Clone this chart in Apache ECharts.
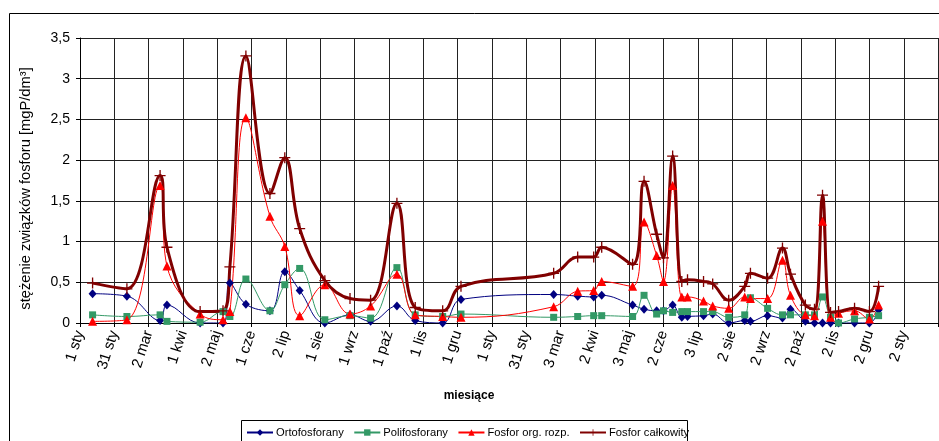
<!DOCTYPE html>
<html>
<head>
<meta charset="utf-8">
<script src="https://cdn.jsdelivr.net/npm/echarts@6/dist/echarts.min.js"></script>
<style>
html,body{margin:0;padding:0;background:#fff;}
#chart{width:939px;height:441px;}
</style>
</head>
<body>
<div id="chart"></div>
<script>
// Day offsets of the samples (days from "1 sty" of the first year)
const days = [11, 41, 70, 76, 105, 125, 131, 145, 166, 179, 192, 214, 236, 254, 277, 293, 317, 333,
  414, 435, 449, 456, 483, 493, 504, 510, 518, 526, 531, 545, 553, 567,
  581, 586, 601, 614, 621, 634, 642, 649, 656, 663, 677, 690, 698];

const ortofosforany = [0.36, 0.33, 0.03, 0.22, 0.00, 0.00, 0.49, 0.23, 0.15, 0.63, 0.40, 0.00, 0.10, 0.02, 0.21, 0.03, 0.00, 0.29,
  0.35, 0.33, 0.32, 0.34, 0.22, 0.17, 0.15, 0.15, 0.22, 0.07, 0.08, 0.09, 0.11, 0.00,
  0.03, 0.02, 0.09, 0.06, 0.17, 0.02, 0.00, 0.00, 0.00, 0.00, 0.00, 0.00, 0.16];

const polifosforany = [0.10, 0.08, 0.10, 0.02, 0.01, 0.14, 0.08, 0.54, 0.15, 0.47, 0.67, 0.04, 0.09, 0.06, 0.68, 0.10, 0.08, 0.11,
  0.07, 0.08, 0.09, 0.09, 0.08, 0.34, 0.11, 0.15, 0.13, 0.14, 0.14, 0.14, 0.14, 0.07,
  0.10, 0.31, 0.18, 0.10, 0.10, 0.10, 0.10, 0.32, 0.07, 0.00, 0.05, 0.07, 0.09];

const fosforOrg = [0.02, 0.04, 1.69, 0.70, 0.11, 0.04, 0.14, 2.52, 1.31, 0.94, 0.09, 0.47, 0.11, 0.21, 0.60, 0.10, 0.08, 0.07,
  0.20, 0.39, 0.40, 0.51, 0.45, 1.24, 0.83, 0.51, 1.69, 0.32, 0.32, 0.27, 0.21, 0.18,
  0.32, 0.30, 0.30, 0.77, 0.34, 0.10, 0.09, 1.25, 0.07, 0.12, 0.15, 0.05, 0.22];

const fosforCalk = [0.49, 0.42, 1.81, 0.93, 0.14, 0.15, 0.69, 3.28, 1.59, 2.03, 1.16, 0.52, 0.30, 0.28, 1.47, 0.19, 0.15, 0.45,
  0.61, 0.81, 0.81, 0.93, 0.72, 1.74, 1.09, 0.80, 2.05, 0.51, 0.53, 0.51, 0.48, 0.28,
  0.45, 0.61, 0.55, 0.92, 0.60, 0.22, 0.17, 1.57, 0.13, 0.14, 0.18, 0.14, 0.45];

const xTickLabels = ["1 sty", "31 sty", "2 mar", "1 kwi", "2 maj", "1 cze", "2 lip", "1 sie", "1 wrz", "1 paź", "1 lis", "1 gru",
  "1 sty", "31 sty", "3 mar", "2 kwi", "3 maj", "2 cze", "3 lip", "2 sie", "2 wrz", "2 paź", "2 lis", "2 gru", "2 sty"];

const seriesNames = ["Ortofosforany", "Polifosforany", "Fosfor org. rozp.", "Fosfor całkowity"];

const pair = arr => days.map((d, i) => [d, arr[i]]);
const FONT = "'Liberation Sans', Arial, sans-serif";
const plusSymbol = 'path://M4.4,0H5.6V10H4.4ZM0,4.4H10V5.6H0Z';

const chart = echarts.init(document.getElementById('chart'), null, {renderer: 'canvas'});
chart.setOption({
  animation: false,
  backgroundColor: '#fff',
  textStyle: {fontFamily: FONT, color: '#000'},
  grid: {left: 80, top: 38, width: 863.5, height: 285},
  graphic: [
    {type: 'rect', z: -10, silent: true, shape: {x: 9.5, y: 13.5, width: 1000, height: 1000},
      style: {fill: 'none', stroke: '#000', lineWidth: 1}},
    {type: 'rect', z: -5, silent: true, shape: {x: 241.5, y: 420.5, width: 446, height: 100},
      style: {fill: '#fff', stroke: '#000', lineWidth: 1}}
  ],
  legend: {
    data: seriesNames,
    left: 246, top: 427,
    padding: 0,
    itemWidth: 26, itemHeight: 8, itemGap: 9.5,
    textStyle: {fontFamily: FONT, fontSize: 11.2, color: '#000', padding: [0, 0, 0, -2]}
  },
  xAxis: {
    type: 'value', min: 0, max: 750, interval: 30,
    name: 'miesiące', nameLocation: 'middle', nameGap: 67,
    nameTextStyle: {fontFamily: FONT, fontSize: 12, fontWeight: 'bold', color: '#000', padding: [0, 80, 0, 0]},
    axisLine: {show: true, lineStyle: {color: '#000', width: 1}},
    axisTick: {show: true, length: 4, lineStyle: {color: '#000'}},
    axisLabel: {
      rotate: 72, margin: 8, fontFamily: FONT, fontSize: 15, color: '#000',
      formatter: v => xTickLabels[Math.round(v / 30)] || ''
    },
    splitLine: {show: true, lineStyle: {color: '#222', width: 1}}
  },
  yAxis: {
    type: 'value', min: 0, max: 3.5, interval: 0.5,
    name: 'stężenie związków fosforu [mgP/dm³]', nameLocation: 'middle', nameGap: 47,
    nameTextStyle: {fontFamily: FONT, fontSize: 14.7, color: '#000', padding: [0, 16, 0, 0]},
    axisLine: {show: true, lineStyle: {color: '#000', width: 1}},
    axisTick: {show: true, length: 4, lineStyle: {color: '#000'}},
    axisLabel: {fontFamily: FONT, fontSize: 14, color: '#000', margin: 10,
      formatter: v => String(v).replace('.', ',')},
    splitLine: {show: true, lineStyle: {color: '#222', width: 1}}
  },
  series: [
    {name: seriesNames[0], type: 'line', data: pair(ortofosforany), smooth: 0.4,
      symbol: 'diamond', symbolSize: [8, 9], color: '#000080',
      lineStyle: {color: '#000080', width: 1}, itemStyle: {color: '#000080'}},
    {name: seriesNames[1], type: 'line', data: pair(polifosforany), smooth: 0.4,
      symbol: 'rect', symbolSize: 7, color: '#339966',
      lineStyle: {color: '#339966', width: 1}, itemStyle: {color: '#339966'}},
    {name: seriesNames[2], type: 'line', data: pair(fosforOrg), smooth: 0.4,
      symbol: 'triangle', symbolSize: 9, color: '#FF0000',
      lineStyle: {color: '#FF0000', width: 1}, itemStyle: {color: '#FF0000'}},
    {name: seriesNames[3], type: 'line', data: pair(fosforCalk), smooth: 0.4,
      symbol: plusSymbol, symbolSize: 11, color: '#800000',
      lineStyle: {color: '#800000', width: 3}, itemStyle: {color: '#800000'}}
  ]
});
</script>
</body>
</html>
